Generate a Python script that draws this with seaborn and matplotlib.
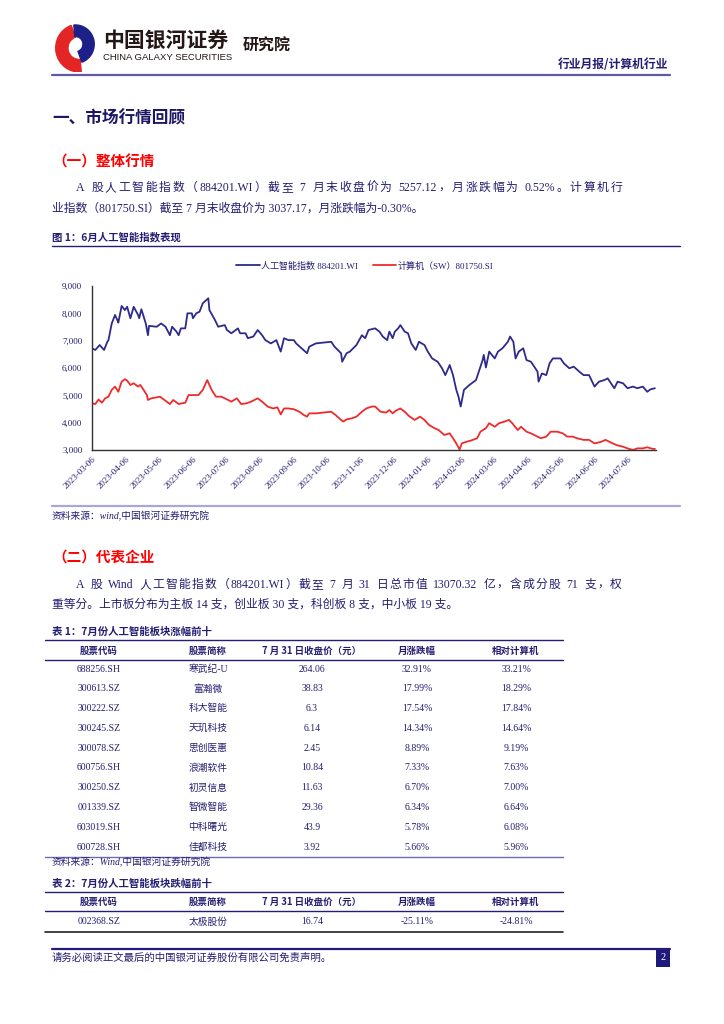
import re

import matplotlib
matplotlib.use("Agg")
import matplotlib.pyplot as plt
from matplotlib.lines import Line2D
from matplotlib.patches import Rectangle, Wedge
from matplotlib.ticker import FuncFormatter
import pandas as pd
import seaborn as sns

# ── data ──────────────────────────────────────────────────────────────────────

ai_dates = [
    "2023-03-06", "2023-03-09", "2023-03-13", "2023-03-17", "2023-03-20", "2023-03-21", "2023-03-24",
    "2023-03-27", "2023-03-29", "2023-03-30", "2023-04-02", "2023-04-05", "2023-04-07", "2023-04-10",
    "2023-04-13", "2023-04-17", "2023-04-18", "2023-04-20", "2023-04-24", "2023-04-26", "2023-04-27",
    "2023-05-04", "2023-05-08", "2023-05-12", "2023-05-16", "2023-05-18", "2023-05-22", "2023-05-24",
    "2023-05-26", "2023-05-30", "2023-06-01", "2023-06-05", "2023-06-06", "2023-06-09", "2023-06-12",
    "2023-06-15", "2023-06-20", "2023-06-21", "2023-06-26", "2023-06-29", "2023-07-05", "2023-07-07",
    "2023-07-11", "2023-07-17", "2023-07-19", "2023-07-24", "2023-07-26", "2023-07-31", "2023-08-04",
    "2023-08-08", "2023-08-11", "2023-08-16", "2023-08-21", "2023-08-25", "2023-08-28", "2023-09-01",
    "2023-09-06", "2023-09-08", "2023-09-13", "2023-09-18", "2023-09-20", "2023-09-26", "2023-10-10",
    "2023-10-13", "2023-10-19", "2023-10-20", "2023-10-24", "2023-10-27", "2023-11-02", "2023-11-07",
    "2023-11-10", "2023-11-13", "2023-11-19", "2023-11-23", "2023-11-26", "2023-11-30", "2023-12-02",
    "2023-12-05", "2023-12-07", "2023-12-10", "2023-12-12", "2023-12-16", "2023-12-19", "2023-12-22",
    "2023-12-26", "2023-12-29", "2024-01-03", "2024-01-06", "2024-01-10", "2024-01-15", "2024-01-19",
    "2024-01-22", "2024-01-26", "2024-01-29", "2024-02-01", "2024-02-03", "2024-02-05", "2024-02-08",
    "2024-02-13", "2024-02-19", "2024-02-22", "2024-02-25", "2024-02-26", "2024-02-28", "2024-03-02",
    "2024-03-07", "2024-03-10", "2024-03-14", "2024-03-19", "2024-03-21", "2024-03-24", "2024-03-26",
    "2024-03-29", "2024-04-02", "2024-04-05", "2024-04-09", "2024-04-12", "2024-04-15", "2024-04-16",
    "2024-04-19", "2024-04-23", "2024-04-26", "2024-04-29", "2024-05-06", "2024-05-09", "2024-05-14",
    "2024-05-18", "2024-05-23", "2024-05-27", "2024-06-01", "2024-06-06", "2024-06-10", "2024-06-15",
    "2024-06-18", "2024-06-21", "2024-06-24", "2024-06-27", "2024-07-02", "2024-07-06", "2024-07-11",
    "2024-07-15", "2024-07-20", "2024-07-24", "2024-07-27", "2024-07-31",
]
ai_values = [
    6720, 6660, 6840, 6660, 6960, 7020, 7630, 7940, 7760, 7660, 8270, 8120, 8240, 7820,
    8240, 7940, 7820, 8150, 7630, 7200, 7540, 7510, 7630, 7510, 7200, 7510, 7330, 7200,
    7450, 7450, 8000, 8000, 7820, 8000, 8060, 8370, 8550, 8120, 7760, 7510, 7570, 7390,
    7270, 7450, 7270, 7270, 7090, 7150, 7390, 7200, 7020, 6900, 7020, 6600, 7090, 7020,
    7020, 6900, 6720, 6540, 6780, 6900, 6960, 6780, 6540, 6230, 6540, 6600, 6840, 7200,
    7090, 7390, 7450, 7330, 7150, 7020, 7330, 7090, 7330, 7450, 7570, 7330, 7270, 6900,
    6660, 6960, 6840, 6600, 6350, 6230, 5990, 5740, 6110, 5740, 5200, 4950, 4590, 5200,
    5380, 5560, 5930, 6290, 6480, 6020, 6600, 6350, 6600, 6720, 6960, 7150, 6960, 6350,
    6600, 6720, 6290, 6230, 6050, 5870, 5500, 5800, 5740, 6170, 6350, 6350, 6170, 5990,
    6050, 5870, 5740, 5740, 5320, 5500, 5560, 5620, 5440, 5260, 5500, 5440, 5260, 5320,
    5260, 5320, 5130, 5220, 5260,
]

sw_dates = [
    "2023-03-06", "2023-03-09", "2023-03-12", "2023-03-15", "2023-03-18", "2023-03-21", "2023-03-24",
    "2023-03-27", "2023-03-30", "2023-04-02", "2023-04-05", "2023-04-07", "2023-04-10", "2023-04-13",
    "2023-04-17", "2023-04-19", "2023-04-22", "2023-04-25", "2023-04-26", "2023-04-29", "2023-05-07",
    "2023-05-11", "2023-05-16", "2023-05-19", "2023-05-24", "2023-05-27", "2023-05-30", "2023-06-02",
    "2023-06-06", "2023-06-11", "2023-06-15", "2023-06-19", "2023-06-23", "2023-06-27", "2023-07-02",
    "2023-07-07", "2023-07-11", "2023-07-16", "2023-07-20", "2023-07-25", "2023-07-29", "2023-08-04",
    "2023-08-08", "2023-08-13", "2023-08-18", "2023-08-22", "2023-08-25", "2023-08-28", "2023-09-01",
    "2023-09-06", "2023-09-11", "2023-09-15", "2023-09-18", "2023-09-20", "2023-09-26", "2023-10-10",
    "2023-10-14", "2023-10-19", "2023-10-21", "2023-10-24", "2023-10-29", "2023-11-02", "2023-11-07",
    "2023-11-11", "2023-11-16", "2023-11-19", "2023-11-24", "2023-11-29", "2023-12-02", "2023-12-05",
    "2023-12-08", "2023-12-12", "2023-12-16", "2023-12-20", "2023-12-25", "2023-12-30", "2024-01-03",
    "2024-01-07", "2024-01-12", "2024-01-16", "2024-01-21", "2024-01-26", "2024-01-29", "2024-02-01",
    "2024-02-04", "2024-02-06", "2024-02-10", "2024-02-14", "2024-02-20", "2024-02-23", "2024-02-28",
    "2024-03-02", "2024-03-07", "2024-03-11", "2024-03-16", "2024-03-20", "2024-03-23", "2024-03-28",
    "2024-03-31", "2024-04-05", "2024-04-09", "2024-04-14", "2024-04-18", "2024-04-23", "2024-04-27",
    "2024-05-03", "2024-05-08", "2024-05-12", "2024-05-17", "2024-05-21", "2024-05-27", "2024-06-01",
    "2024-06-06", "2024-06-12", "2024-06-16", "2024-06-21", "2024-06-26", "2024-07-02", "2024-07-06",
    "2024-07-11", "2024-07-15", "2024-07-20", "2024-07-24", "2024-07-29", "2024-07-31",
]
sw_values = [
    4710, 4680, 4850, 4730, 4890, 4950, 5200, 5320, 5130, 5500, 5590, 5540, 5380, 5440,
    5320, 5380, 5200, 5010, 4830, 4890, 4950, 4830, 4680, 4830, 4680, 4710, 4730, 5010,
    5010, 5010, 5200, 5560, 5200, 4950, 4950, 4850, 4770, 4890, 4680, 4710, 4770, 4890,
    4770, 4590, 4520, 4560, 4300, 4520, 4520, 4490, 4400, 4280, 4220, 4340, 4340, 4400,
    4280, 4100, 4040, 4120, 4160, 4220, 4400, 4520, 4590, 4590, 4400, 4370, 4460, 4340,
    4440, 4520, 4400, 4240, 4100, 4220, 4100, 3920, 3800, 3730, 3550, 3610, 3430, 3240,
    3020, 3240, 3300, 3340, 3430, 3670, 3800, 3980, 3850, 3980, 4040, 4100, 3980, 3730,
    3850, 3670, 3610, 3510, 3430, 3490, 3670, 3670, 3610, 3490, 3490, 3430, 3370, 3370,
    3240, 3300, 3370, 3270, 3180, 3120, 3060, 3000, 3060, 3060, 3100, 3040, 3040,
]

y_ticks = [3000, 4000, 5000, 6000, 7000, 8000, 9000]
x_ticks = [
    "2023-03-06", "2023-04-06", "2023-05-06", "2023-06-06", "2023-07-06", "2023-08-06",
    "2023-09-06", "2023-10-06", "2023-11-06", "2023-12-06", "2024-01-06", "2024-02-06",
    "2024-03-06", "2024-04-06", "2024-05-06", "2024-06-06", "2024-07-06",
]

col_heads = ["股票代码", "股票简称", "7 月 31 日收盘价（元）", "月涨跌幅", "相对计算机"]
up_codes = ["688256.SH", "300613.SZ", "300222.SZ", "300245.SZ", "300078.SZ",
            "600756.SH", "300250.SZ", "001339.SZ", "603019.SH", "600728.SH"]
up_names = ["寒武纪-U", "富瀚微", "科大智能", "天玑科技", "思创医惠",
            "浪潮软件", "初灵信息", "智微智能", "中科曙光", "佳都科技"]
up_close = ["264.06", "38.83", "6.3", "6.14", "2.45", "10.84", "11.63", "29.36", "43.9", "3.92"]
up_chg = ["32.91%", "17.99%", "17.54%", "14.34%", "8.89%", "7.33%", "6.70%", "6.34%", "5.78%", "5.66%"]
up_rel = ["33.21%", "18.29%", "17.84%", "14.64%", "9.19%", "7.63%", "7.00%", "6.64%", "6.08%", "5.96%"]

down_codes = ["002368.SZ"]
down_names = ["太极股份"]
down_close = ["16.74"]
down_chg = ["-25.11%"]
down_rel = ["-24.81%"]

# ── style ─────────────────────────────────────────────────────────────────────

W, H = 724, 1024
NAVY = "#241e72"
BLUE = "#2e2a8c"
RED = "#ee2b2b"
LAVENDER = "#a9a6d8"
SERIF = ["Liberation Serif", "Noto Sans CJK SC", "DejaVu Sans"]
SANS = ["Noto Sans CJK SC", "DejaVu Sans"]

sns.set_theme(style="white")
plt.rcParams["font.family"] = SERIF

fig = plt.figure(figsize=(W / 100, H / 100), dpi=100)
fig.patch.set_facecolor("white")
renderer = fig.canvas.get_renderer()


def put(x, y, s, size=8.5, color=NAVY, weight="normal", ha="left", style="normal", family=None):
    return fig.text(x / W, 1 - y / H, s, fontsize=size, color=color, fontweight=weight,
                    ha=ha, va="center", fontstyle=style, family=family or SERIF)


def justify(x0, x1, y, s, size=8.5):
    """Spread a line of text evenly between x0 and x1 (pixels), like a justified paragraph."""
    tokens = re.findall(r"[A-Za-z0-9.%\-]+| |[^ ]", s)
    space = size * 0.28 * 100 / 72
    items = []
    for tok in tokens:
        if tok == " ":
            items.append((None, space))
        else:
            t = put(0, y, tok, size=size)
            items.append((t, t.get_window_extent(renderer).width))
    gap = (x1 - x0 - sum(w for _, w in items)) / max(len(items) - 1, 1)
    x = x0
    for t, w in items:
        if t is not None:
            t.set_x(x / W)
        x += w + gap


def rule(x0, x1, y, color=NAVY, lw=1.0):
    fig.add_artist(Line2D([x0 / W, x1 / W], [1 - y / H, 1 - y / H], color=color, lw=lw,
                          transform=fig.transFigure))


# ── header ────────────────────────────────────────────────────────────────────

logo = fig.add_axes([51 / W, 1 - 72 / H, 47 / W, 48 / H])
logo.set_xlim(0, 1)
logo.set_ylim(0, 1)
logo.axis("off")
logo.add_patch(Wedge((0.60, 0.50), 0.50, 110, 275, width=0.26, color="#e32526"))
logo.add_patch(Wedge((0.52, 0.58), 0.40, -70, 95, width=0.24, color="#1d2088"))

put(103, 40, "中国银河证券", size=15, color="#231815", weight="bold", family=SANS)
put(103, 57, "CHINA GALAXY SECURITIES", size=6.8, color="#231815",
    family=["Liberation Sans", "DejaVu Sans"])
put(243, 46, "研究院", size=11.5, color="#231815", weight="bold", family=SANS)
put(668, 64, "行业月报/计算机行业", size=8.5, weight="bold", ha="right", family=SANS)
rule(52, 670, 75, color="#5e59ad", lw=1.6)

# ── section 1 ─────────────────────────────────────────────────────────────────

put(52, 118, "一、市场行情回顾", size=12, color="#1c1763", weight="bold", family=SANS)
put(52, 162, "（一）整体行情", size=10.5, color="#ff0000", weight="bold", family=SANS)
justify(76, 622, 188, "A 股人工智能指数（884201.WI）截至 7 月末收盘价为 5257.12，月涨跌幅为 0.52%。计算机行")
put(52, 209, "业指数（801750.SI）截至 7 月末收盘价为 3037.17，月涨跌幅为-0.30%。")
put(52, 237, "图 1：6月人工智能指数表现", size=7.5, weight="bold", family=SANS)
rule(52, 680, 246, lw=1.0)

# ── chart ─────────────────────────────────────────────────────────────────────

ax = fig.add_axes([92 / W, 1 - 450 / H, (656 - 92) / W, (450 - 286) / H])
sns.lineplot(x=pd.to_datetime(ai_dates), y=ai_values, color=BLUE, lw=1.3, ax=ax,
             label="人工智能指数 884201.WI")
sns.lineplot(x=pd.to_datetime(sw_dates), y=sw_values, color=RED, lw=1.3, ax=ax,
             label="计算机（SW）801750.SI")

ax.set_xlim(pd.Timestamp("2023-03-06"), pd.Timestamp("2024-08-01"))
ax.set_ylim(3000, 9000)
ax.set_yticks(y_ticks)
ax.yaxis.set_major_formatter(FuncFormatter(lambda v, _: f"{int(v):,}"))
ticks = pd.to_datetime(x_ticks)
ax.set_xticks(ticks)
ax.set_xticklabels([t.strftime("%Y-%m-%d") for t in ticks], rotation=45, ha="right",
                   rotation_mode="anchor")
ax.tick_params(axis="both", direction="in", length=3, width=0.8, colors="#333333",
               labelsize=6.5, labelcolor=NAVY)
ax.tick_params(axis="y", pad=7)
ax.tick_params(axis="x", pad=4)
ax.set_xlabel("")
ax.set_ylabel("")
for side in ["top", "right"]:
    ax.spines[side].set_visible(False)
for side in ["left", "bottom"]:
    ax.spines[side].set_color("#333333")
    ax.spines[side].set_linewidth(1.0)

leg = ax.legend(loc="center", bbox_to_anchor=(0.484, 1.122), ncol=2, frameon=False,
                fontsize=6.5, handlelength=2.6, columnspacing=1.6, handletextpad=0.2)
for t in leg.get_texts():
    t.set_color(NAVY)

rule(52, 680, 506, color=LAVENDER, lw=1.6)
put(52, 516, "资料来源：wind,中国银河证券研究院", size=7, style="italic")

# ── section 2 ─────────────────────────────────────────────────────────────────

put(52, 557, "（二）代表企业", size=10.5, color="#ff0000", weight="bold", family=SANS)
justify(76, 622, 585, "A 股 Wind 人工智能指数（884201.WI）截至 7 月 31 日总市值 13070.32 亿，含成分股 71 支，权")
put(52, 605, "重等分。上市板分布为主板 14 支，创业板 30 支，科创板 8 支，中小板 19 支。")

col_x = [99, 208, 312, 417, 516]


def table(title_y, head_y, first_row_y, row_h, columns, bottom_color, bottom_lw, title):
    put(52, title_y, title, size=7.5, weight="bold", family=SANS)
    rule(45, 563, title_y + 8, lw=1.0)
    for x, head in zip(col_x, col_heads):
        put(x, head_y, head, size=6.8, weight="bold", ha="center", family=SANS)
    rule(45, 563, head_y + 9, lw=1.0)
    n = len(columns[0])
    for i in range(n):
        for x, col in zip(col_x, columns):
            put(x, first_row_y + i * row_h, col[i], size=7.0, ha="center")
    rule(45, 563, first_row_y + (n - 1) * row_h + 9.5, color=bottom_color, lw=bottom_lw)


table(632, 651, 669, 19.8, [up_codes, up_names, up_close, up_chg, up_rel],
      "#6f6bb0", 1.0, "表 1：7月份人工智能板块涨幅前十")
put(52, 862, "资料来源：Wind,中国银河证券研究院", size=7, style="italic")
table(884, 902, 922, 19.8, [down_codes, down_names, down_close, down_chg, down_rel],
      "#222222", 1.2, "表 2：7月份人工智能板块跌幅前十")

# ── footer ────────────────────────────────────────────────────────────────────

rule(52, 670, 949, color="#231c7c", lw=1.6)
put(52, 958, "请务必阅读正文最后的中国银河证券股份有限公司免责声明。", size=7.5)
fig.add_artist(Rectangle((656 / W, 1 - 967 / H), 14 / W, 18 / H, transform=fig.transFigure,
                         facecolor="#1f1a7a", edgecolor="none"))
put(663, 958, "2", size=7.5, color="white", ha="center")

fig.savefig("out.png", dpi=100, facecolor="white")
plt.close(fig)
